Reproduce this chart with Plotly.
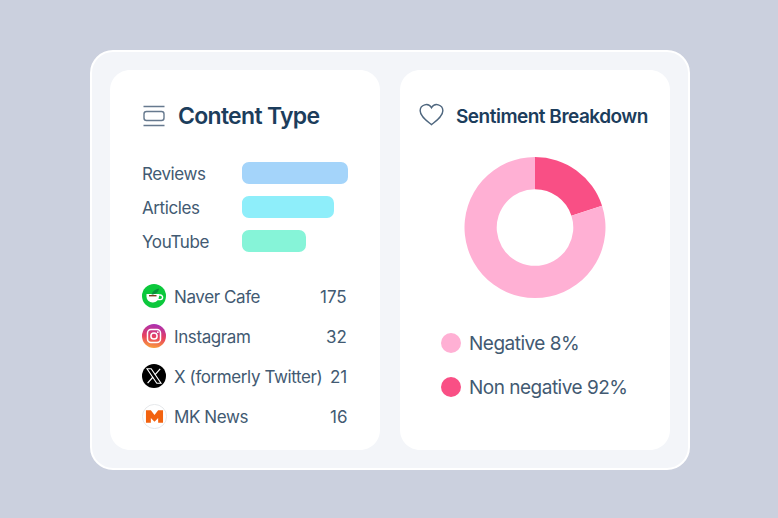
import base64
import plotly.graph_objects as go

W, H = 778, 518

# data
categories = ['Reviews', 'Articles', 'YouTube']
category_values = [106, 92, 64]
category_colors = ['#A4D4FA', '#8EEEFA', '#86F4D8']

sources = ['Naver Cafe', 'Instagram', 'X (formerly Twitter)', 'MK News']
source_counts = [175, 32, 21, 16]

sentiment_labels = ['Non negative', 'Negative']
sentiment_slices = [20, 80]
sentiment_colors = ['#F94F85', '#FFB0D4']
legend_text = ['Negative 8%', 'Non negative 92%']
legend_colors = ['#FFB0D4', '#F94F85']

TEXT = '#425A72'
DARK = '#1C3D5C'
FONT = 'Inter'


def px(x):
    return x / W


def py(y):
    return 1 - y / H


def rrect(x0, y0, x1, y1, r, fill, line=None, lw=0):
    # rounded rect, pixel coords
    k = r * 0.45
    pts = [
        f'M{px(x0 + r)},{py(y0)}', f'L{px(x1 - r)},{py(y0)}',
        f'C{px(x1 - k)},{py(y0)},{px(x1)},{py(y0 + k)},{px(x1)},{py(y0 + r)}',
        f'L{px(x1)},{py(y1 - r)}',
        f'C{px(x1)},{py(y1 - k)},{px(x1 - k)},{py(y1)},{px(x1 - r)},{py(y1)}',
        f'L{px(x0 + r)},{py(y1)}',
        f'C{px(x0 + k)},{py(y1)},{px(x0)},{py(y1 - k)},{px(x0)},{py(y1 - r)}',
        f'L{px(x0)},{py(y0 + r)}',
        f'C{px(x0)},{py(y0 + k)},{px(x0 + k)},{py(y0)},{px(x0 + r)},{py(y0)}Z',
    ]
    return dict(type='path', xref='paper', yref='paper', path=''.join(pts),
                fillcolor=fill, line=dict(color=line or fill, width=lw), layer='below')


def corner_mask(x, y, r, up):
    # plotly only rounds the far end of a bar, so cover the two base corners
    s = 1 if up else -1
    k = r * 0.45
    path = (f'M{px(x - 0.5)},{py(y - s * 0.5)}L{px(x + r)},{py(y - s * 0.5)}L{px(x + r)},{py(y)}'
            f'C{px(x + k)},{py(y)},{px(x)},{py(y + s * k)},{px(x)},{py(y + s * r)}'
            f'L{px(x - 0.5)},{py(y + s * r)}Z')
    return dict(type='path', xref='paper', yref='paper', path=path,
                fillcolor='#FFFFFF', line=dict(width=0), layer='above')


def circle(cx, cy, r, fill):
    return dict(type='circle', xref='paper', yref='paper', x0=px(cx - r), x1=px(cx + r),
                y0=py(cy + r), y1=py(cy - r), fillcolor=fill, line=dict(width=0))


def label(x, y, text, size=17, color=TEXT, anchor='left', weight=400):
    return dict(xref='paper', yref='paper', x=px(x), y=py(y), text=text, showarrow=False,
                xanchor=anchor, yanchor='middle', borderpad=0,
                font=dict(family=FONT, size=size, color=color, weight=weight))


def svg_image(svg, x, y, size):
    data = base64.b64encode(svg.encode()).decode()
    return dict(source='data:image/svg+xml;base64,' + data, xref='paper', yref='paper',
                x=px(x), y=py(y), sizex=size / W, sizey=size / H,
                xanchor='left', yanchor='top', layer='above')


ICON_HEADER = ('<svg xmlns="http://www.w3.org/2000/svg" viewBox="0 0 24 24" width="96" height="96">'
               '<g fill="none" stroke="#66798E" stroke-width="1.4">'
               '<path d="M1.5 2.5H22.5M1.5 21.5H22.5"/>'
               '<rect x="2" y="7.5" width="20" height="9" rx="2.5"/></g></svg>')
ICON_HEART = ('<svg xmlns="http://www.w3.org/2000/svg" viewBox="0 0 26 24" width="104" height="96">'
              '<path d="M13 22.5C8 18.5 1.2 14 1.2 8A6.3 6.3 0 0 1 13 5 A6.3 6.3 0 0 1 24.8 8C24.8 14 18 18.5 13 22.5Z" '
              'fill="none" stroke="#4E667E" stroke-width="1.5"/></svg>')
ICON_NAVER = ('<svg xmlns="http://www.w3.org/2000/svg" viewBox="0 0 24 24" width="96" height="96">'
              '<circle cx="12" cy="12" r="12" fill="#0CC83C"/>'
              '<path d="M4.5 10H17V12.5A6 6 0 0 1 11 18.5H10.5A6 6 0 0 1 4.5 12.5Z" fill="#fff"/>'
              '<path d="M17 11H18.3A2.3 2.3 0 0 1 18.3 15.6H16" fill="none" stroke="#fff" stroke-width="1.4"/>'
              '<path d="M7 11H14.5V12.4H7Z" fill="#7A3B1E"/>'
              '<path d="M9.5 10.5C10.5 7.5 13.5 5 17 4.5C16.5 8 14 10.5 9.5 10.5Z" fill="#0A8F3C"/></svg>')
ICON_INSTA = ('<svg xmlns="http://www.w3.org/2000/svg" viewBox="0 0 24 24" width="96" height="96">'
              '<defs><linearGradient id="g" x1="0.4" y1="1" x2="0.55" y2="0">'
              '<stop offset="0" stop-color="#F9A03C"/><stop offset="0.45" stop-color="#E8425E"/>'
              '<stop offset="1" stop-color="#A92FB4"/></linearGradient></defs>'
              '<circle cx="12" cy="12" r="12" fill="url(#g)"/>'
              '<rect x="5.5" y="5.5" width="13" height="13" rx="3.5" fill="none" stroke="#fff" stroke-width="1.5"/>'
              '<circle cx="12" cy="12" r="3.1" fill="none" stroke="#fff" stroke-width="1.5"/>'
              '<circle cx="15.8" cy="8.2" r="0.9" fill="#fff"/></svg>')
ICON_X = ('<svg xmlns="http://www.w3.org/2000/svg" viewBox="0 0 24 24" width="96" height="96">'
          '<circle cx="12" cy="12" r="12" fill="#000"/>'
          '<path d="M5 4.8H9.2L19 19.2H14.8Z" fill="none" stroke="#fff" stroke-width="1.1"/>'
          '<path d="M18.2 4.8L12.9 10.8M11 13L5.6 19.2" fill="none" stroke="#fff" stroke-width="1.2"/></svg>')
ICON_MK = ('<svg xmlns="http://www.w3.org/2000/svg" viewBox="0 0 24 24" width="96" height="96">'
           '<circle cx="12" cy="12" r="11.6" fill="#fff" stroke="#DDDFE3" stroke-width="0.7"/>'
           '<path d="M3.8 6H8.5L12 10.5L15.5 6H20.2V18H15.5V13.5L12 17L8.5 13.5V18H3.8Z" fill="#F2620F"/></svg>')

fig = go.Figure()

fig.add_trace(go.Bar(
    x=category_values, y=categories, orientation='h',
    marker=dict(color=category_colors, cornerradius=7, line=dict(width=0)),
    hoverinfo='skip', showlegend=False,
))

fig.add_trace(go.Pie(
    values=sentiment_slices, labels=sentiment_labels, sort=False, direction='clockwise', rotation=0,
    hole=0.543, marker=dict(colors=sentiment_colors, line=dict(width=0)),
    textinfo='none', hoverinfo='skip', showlegend=False,
    domain=dict(x=[px(464.5), px(605.5)], y=[py(298), py(157)]),
))

shapes = [
    rrect(91, 51, 689, 469, 22, '#F3F5F9', '#FFFFFF', 2),
    rrect(110, 70, 380, 450, 20, '#FFFFFF'),
    rrect(400, 70, 670, 450, 20, '#FFFFFF'),
]
annotations = [
    label(177, 116, 'Content Type', size=23, color=DARK, weight=600),
    label(455, 116, 'Sentiment Breakdown', size=19, color=DARK, weight=600),
]

for i, name in enumerate(categories):
    annotations.append(label(141, 174 + 34 * i, name))
    top = 162 + 34 * i
    shapes.append(corner_mask(242, top, 7, True))
    shapes.append(corner_mask(242, top + 22, 7, False))

for i, (name, count) in enumerate(zip(sources, source_counts)):
    y = 297 + 40 * i
    annotations.append(label(173, y, name))
    annotations.append(label(348, y, str(count), anchor='right'))

for i, (txt, col) in enumerate(zip(legend_text, legend_colors)):
    y = 343 + 44 * i
    shapes.append(circle(451, y, 10, col))
    annotations.append(label(468, y, txt, size=19))

images = [
    svg_image(ICON_HEADER, 142, 104, 24),
    svg_image(ICON_HEART, 419, 102, 25),
    svg_image(ICON_NAVER, 142, 284, 24),
    svg_image(ICON_INSTA, 142, 324, 24),
    svg_image(ICON_X, 142, 364, 24),
    svg_image(ICON_MK, 142, 404, 25),
]

fig.update_layout(
    width=W, height=H, margin=dict(l=0, r=0, t=0, b=0),
    paper_bgcolor='#CBD0DE', plot_bgcolor='rgba(0,0,0,0)',
    bargap=12 / 34, shapes=shapes, annotations=annotations, images=images,
    xaxis=dict(domain=[px(242), px(348)], range=[0, 106], visible=False, fixedrange=True),
    yaxis=dict(domain=[py(258), py(156)], autorange='reversed', visible=False, fixedrange=True),
)

# tighter tracking than plotly's default Inter, counts stay as they are
# annotation text is centred in its box, so move it back to keep the left edge
TRACKING = """
document.body.style.margin='0';
document.body.style.background='#CBD0DE';
var spacing = {'23px': '-0.7px', '19px': '-0.5px', '17px': '-0.4px'};
document.querySelectorAll('.annotation-text').forEach(function (t) {
    if (/^[0-9]+$/.test(t.textContent)) { return; }
    var before = t.getComputedTextLength();
    t.style.letterSpacing = spacing[t.style.fontSize] || '0';
    var after = t.getComputedTextLength();
    t.setAttribute('x', parseFloat(t.getAttribute('x')) - (before - after) / 2);
});
"""

fig.write_html("out.html", config=dict(displayModeBar=False), post_script=TRACKING)
